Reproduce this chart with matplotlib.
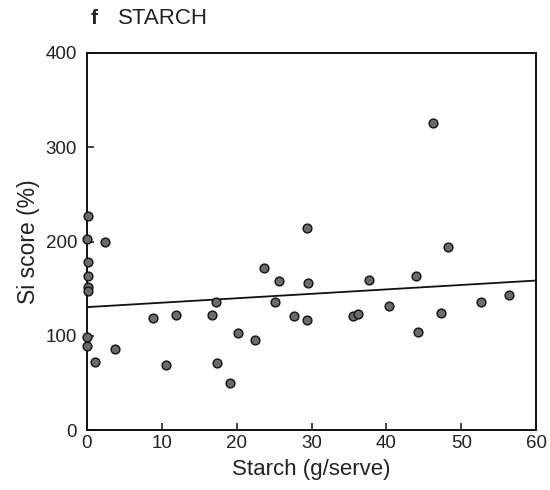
import matplotlib.pyplot as plt
import numpy as np

plt.rcParams['font.family'] = ['Liberation Sans', 'DejaVu Sans']

# starch (g/serve) and Si score (%)
starch = [0.2, 0.0, 2.4, 0.1, 0.1, 0.1, 0.1, 0.0, 0.0, 1.1, 3.8,
          8.8, 11.9, 16.7, 17.2, 20.2, 22.4, 10.6, 17.4, 19.1,
          46.2, 29.4, 48.2, 23.6, 25.6, 29.5, 37.7, 44.0, 25.1, 27.6,
          29.4, 35.5, 36.2, 40.3, 47.3, 52.6, 56.3, 44.2]
si_score = [227, 203, 200, 178, 164, 152, 148, 99, 89, 72, 86,
            119, 122, 122, 136, 103, 96, 69, 71, 50,
            326, 214, 194, 172, 158, 156, 159, 163, 136, 121,
            117, 121, 123, 132, 124, 136, 143, 104]

# regression line as drawn
fit_intercept = 130.5
fit_slope = 0.47

fig = plt.figure(figsize=(5.5, 4.9), dpi=100)
ax = fig.add_axes([0.158, 0.122, 0.817, 0.770])

ax.scatter(starch, si_score, s=40, facecolor='#6a6a6a', edgecolor='#111111',
           linewidth=1.0, zorder=3, clip_on=False)
xl = np.array([0, 60])
ax.plot(xl, fit_intercept + fit_slope * xl, color='#111111', lw=1.3, zorder=2)

ax.set_xlim(0, 60)
ax.set_ylim(0, 400)
ax.set_xticks([0, 10, 20, 30, 40, 50, 60])
ax.set_yticks([0, 100, 200, 300, 400])
ax.tick_params(direction='in', length=5, width=1.2, labelsize=13.5,
               colors='#222222', top=False, right=False)
ax.tick_params(axis='y', pad=7)
for s in ax.spines.values():
    s.set_linewidth(1.4)
    s.set_color('#111111')

ax.set_xlabel('Starch (g/serve)', fontsize=16, color='#222222', labelpad=5)
ax.set_ylabel('Si score (%)', fontsize=16.5, color='#222222', labelpad=4)
fig.text(0.165, 0.962, 'f', fontsize=15, fontweight='bold', color='#222222',
         va='center')
fig.text(0.214, 0.962, 'STARCH', fontsize=16, color='#222222', va='center')

fig.savefig('out.png', dpi=100)
